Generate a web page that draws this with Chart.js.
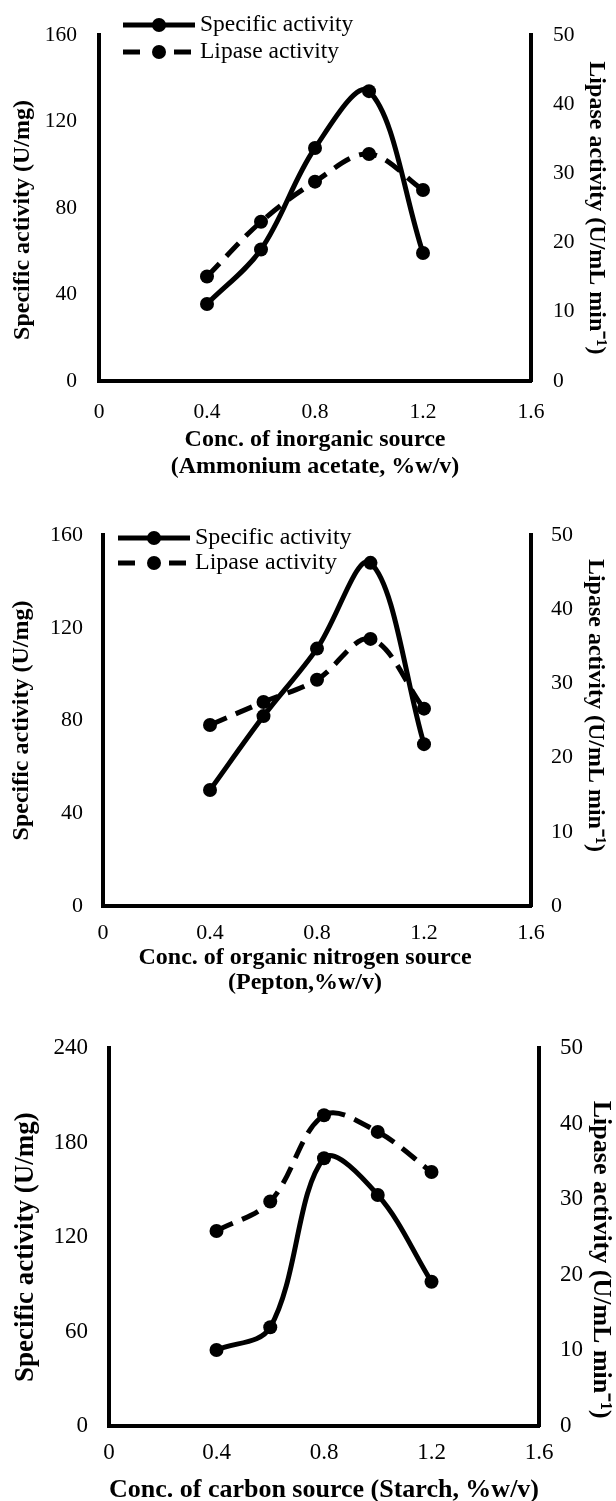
<!DOCTYPE html>
<html>
<head>
<meta charset="utf-8">
<script src="https://cdn.jsdelivr.net/npm/chart.js@4.4.1/dist/chart.umd.min.js"></script>
<style>
    body { margin: 0; background: #fff; overflow: hidden; }
    canvas { display: block; }
</style>
</head>
<body>
<canvas id="chartInorganic" width="616" height="490"></canvas>
<canvas id="chartOrganic" width="616" height="510"></canvas>
<canvas id="chartCarbon" width="616" height="520"></canvas>
<script>
// data
const concentrations = [0.4, 0.6, 0.8, 1.0, 1.2];
const xTicks = [0, 0.4, 0.8, 1.2, 1.6];
const xTickLabels = ['0', '0.4', '0.8', '1.2', '1.6'];
const specTicksSmall = [0, 40, 80, 120, 160];
const specTicksLarge = [0, 60, 120, 180, 240];
const lipaseTicks = [0, 10, 20, 30, 40, 50];

// ammonium acetate
const specInorganic = [35.6, 60.8, 107.7, 134, 59.2];
const lipaseInorganic = [15.1, 23.0, 28.8, 32.8, 27.6];
// pepton
const specOrganic = [50, 81.9, 111, 148, 69.8];
const lipaseOrganic = [24.4, 27.5, 30.5, 36, 26.6];
// starch
const specCarbon = [48.3, 62.7, 170, 146.7, 91.6];
const lipaseCarbon = [25.8, 29.7, 41.1, 38.9, 33.6];

Chart.defaults.font.family = "'Liberation Serif', 'Times New Roman', serif";
Chart.defaults.color = '#000';

function toPoints(values) {
    return values.map((v, i) => ({ x: concentrations[i], y: v }));
}

// nudge a centred title along its axis with blank space
function pad(text, lead, trail) {
    return ' '.repeat(lead) + text + ' '.repeat(trail);
}

// legend drawn inside the plot, like the Excel one
const insideLegend = {
    id: 'insideLegend',
    afterDraw(chart, args, opts) {
        if (!opts || !opts.display) return;
        const c = chart.ctx;
        c.save();
        chart.data.datasets.forEach(function (ds, i) {
            const y = opts.y + i * opts.rowGap;
            const x0 = opts.x;
            const x1 = opts.x + opts.len;
            c.strokeStyle = ds.borderColor;
            c.lineWidth = ds.borderWidth;
            c.beginPath();
            if (ds.borderDash && ds.borderDash.length) {
                c.moveTo(x0, y); c.lineTo(x0 + opts.dash, y);
                c.moveTo(x1 - opts.dash - 4, y); c.lineTo(x1 - 4, y);
            } else {
                c.moveTo(x0, y); c.lineTo(x1, y);
            }
            c.stroke();
            c.fillStyle = ds.pointBackgroundColor;
            c.beginPath();
            c.arc((x0 + x1) / 2, y, ds.pointRadius, 0, Math.PI * 2);
            c.fill();
            c.font = opts.fontSize + "px 'Liberation Serif'";
            c.textBaseline = 'middle';
            c.textAlign = 'left';
            c.fillStyle = '#000';
            c.fillText(ds.label, opts.textX, y);
        });
        c.restore();
    }
};

function buildChart(canvasId, specData, lipaseData, specTicks, xTitle, lay) {
    const ctx = document.getElementById(canvasId).getContext('2d');
    const borderOpts = { display: true, width: 4, color: '#000' };

    return new Chart(ctx, {
        type: 'line',
        data: {
            datasets: [{
                label: 'Specific activity',
                yAxisID: 'y',
                data: toPoints(specData),
                borderColor: '#000',
                borderWidth: 5,
                borderDash: [],
                pointRadius: 7,
                pointBackgroundColor: '#000',
                pointBorderWidth: 0,
                tension: 0.35,
                fill: false
            }, {
                label: 'Lipase activity',
                yAxisID: 'y1',
                data: toPoints(lipaseData),
                borderColor: '#000',
                borderWidth: 5,
                borderDash: [18, 10],
                pointRadius: 7,
                pointBackgroundColor: '#000',
                pointBorderWidth: 0,
                tension: 0.35,
                fill: false
            }]
        },
        options: {
            responsive: false,
            animation: false,
            layout: { padding: { left: lay.padL, right: lay.padR, top: lay.padT, bottom: lay.padB } },
            plugins: {
                legend: { display: false },
                tooltip: { enabled: false },
                insideLegend: lay.legend
            },
            scales: {
                x: {
                    type: 'linear',
                    min: xTicks[0],
                    max: xTicks[xTicks.length - 1],
                    grid: { display: false, drawTicks: false },
                    border: borderOpts,
                    ticks: {
                        stepSize: xTicks[1] - xTicks[0],
                        autoSkip: false,
                        maxRotation: 0,
                        padding: lay.tickPadX,
                        font: { size: lay.tickSize },
                        callback: (v, i) => xTickLabels[i]
                    },
                    title: {
                        display: true,
                        text: xTitle,
                        padding: 0,
                        font: { size: lay.xTitleSize, weight: 'bold', lineHeight: lay.xTitleLine }
                    },
                    afterFit: (scale) => { scale.height = lay.xH; }
                },
                y: {
                    position: 'left',
                    min: specTicks[0],
                    max: specTicks[specTicks.length - 1],
                    grid: { display: false, drawTicks: false },
                    border: borderOpts,
                    ticks: { stepSize: specTicks[1] - specTicks[0], padding: lay.tickPadL, font: { size: lay.tickSize } },
                    title: { display: true, text: lay.leftTitle, padding: 0, font: { size: lay.titleSize, weight: 'bold', lineHeight: 1 } },
                    afterFit: (scale) => { scale.width = lay.leftW; }
                },
                y1: {
                    position: 'right',
                    min: lipaseTicks[0],
                    max: lipaseTicks[lipaseTicks.length - 1],
                    grid: { display: false, drawTicks: false },
                    border: borderOpts,
                    ticks: { stepSize: lipaseTicks[1] - lipaseTicks[0], padding: lay.tickPadR, font: { size: lay.tickSize } },
                    title: { display: true, text: lay.rightTitle, padding: 0, font: { size: lay.rightTitleSize, weight: 'bold', lineHeight: 1 } },
                    afterFit: (scale) => { scale.width = lay.rightW; }
                }
            }
        },
        plugins: [insideLegend]
    });
}

const specTitle = 'Specific activity (U/mg)';
const lipaseTitle = 'Lipase activity (U/mL min\u207B\u00B9)';

// Ammonium acetate chart
buildChart('chartInorganic', specInorganic, lipaseInorganic, specTicksSmall,
    ['Conc. of inorganic source', '(Ammonium acetate, %w/v)'], {
        padL: 11, padR: 8, padT: 29, padB: 9.5,
        leftW: 88, rightW: 77, xH: 99.5,
        tickSize: 21.5, tickPadL: 22, tickPadR: 22, tickPadX: 18,
        titleSize: 24, rightTitleSize: 24, xTitleSize: 24, xTitleLine: '27px',
        leftTitle: pad(specTitle, 0, 4), rightTitle: lipaseTitle,
        legend: { display: true, x: 123, y: 25, len: 72, dash: 17, textX: 200, rowGap: 27, fontSize: 23.5 }
    });

// Pepton chart
buildChart('chartOrganic', specOrganic, lipaseOrganic, specTicksSmall,
    [pad('Conc. of organic nitrogen source', 0, 4), pad('(Pepton,%w/v)', 0, 4)], {
        padL: 9.7, padR: 9, padT: 45, padB: 4.5,
        leftW: 93.3, rightW: 76, xH: 89.5,
        tickSize: 22, tickPadL: 20, tickPadR: 20, tickPadX: 13.8,
        titleSize: 24, rightTitleSize: 24, xTitleSize: 24, xTitleLine: '25px',
        leftTitle: specTitle, rightTitle: pad(lipaseTitle, 0, 5),
        legend: { display: true, x: 118, y: 48, len: 72, dash: 17, textX: 195, rowGap: 25, fontSize: 24 }
    });

// Starch chart
buildChart('chartCarbon', specCarbon, lipaseCarbon, specTicksLarge,
    'Conc. of carbon source (Starch, %w/v)', {
        padL: 12.5, padR: 2, padT: 48, padB: 14.1,
        leftW: 96.5, rightW: 75, xH: 79.9,
        tickSize: 23, tickPadL: 21, tickPadR: 21, tickPadX: 13.2,
        titleSize: 27, rightTitleSize: 26, xTitleSize: 26, xTitleLine: 1.2,
        leftTitle: pad(specTitle, 0, 3), rightTitle: pad(lipaseTitle, 7, 0),
        legend: { display: false }
    });
</script>
</body>
</html>
